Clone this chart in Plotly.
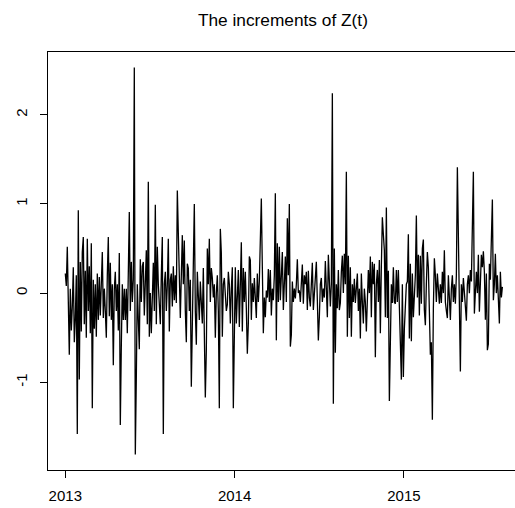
import pandas as pd
import plotly.graph_objects as go

# Increments of Z(t), one value every 51.75 hours starting 2013-01-01
increments_2013 = [
    0.22, 0.08, 0.52, -0.35, -0.69, 0.05, -0.42, -0.15, 0.29, -0.55,
    -0.30, 0.20, -1.58, 0.93, -0.97, 0.35, -0.43, 0.46, 0.63, -0.35,
    0.25, -0.50, 0.61, -0.20, 0.30, -0.45, 0.56, -1.29, 0.15, -0.40,
    0.10, -0.49, 0.22, -0.30, 0.18, -0.25, 0.12, 0.46, -0.28, 0.05,
    -0.20, -0.50, 0.20, 0.63, -0.26, 0.34, -0.30, 0.10, -0.81, 0.05,
    0.24, -0.20, 0.10, -0.42, 0.45, -1.48, -0.60, 0.10, -0.30, 0.05,
    -0.30, 0.05, -0.45, 0.20, 0.91, -0.20, 0.35, -0.10, 0.15, 2.53,
    -1.81, -0.96, 0.10, -0.30, -0.63, 0.38, -0.10, 0.30, 0.35, -0.25,
    0.10, 0.48, -0.35, 1.25, -0.49, 0.00, -0.45, 0.10, 0.34, -0.20,
    0.99, -0.35, 0.52, 0.10, -0.20, -0.35, 0.20, 0.63, -1.58, 0.10,
    0.24, -0.20, 0.10, 0.61, -0.43, 0.15, 0.22, -0.15, 0.30, -0.08,
    0.20, -0.11, 1.15, 0.67, 0.30, -0.28, 0.20, 0.65, 0.10, 0.59,
    -0.20, -0.55, 0.33, 0.28, -0.20, 0.15, -1.05, -0.34, 0.51, 1.00,
    -0.20, -0.58, 0.24, -0.10, -0.30, 0.13, -0.05, -0.34, 0.28, -0.63,
    -1.17, -0.64, 0.50, 0.10, 0.61, -0.10, 0.28, 0.17, -0.05, 0.10,
    -0.50, 0.00, 0.20, -0.20, -1.29, 0.72, 0.45, -0.49, 0.10, 0.17,
    -0.10, -0.20, -0.13, 0.24, 0.10, -0.34, 0.05, 0.29, -1.29, -0.58,
]
increments_2014 = [
    0.29, -0.34, 0.10, 0.26, -0.38, 0.10, 0.57, -0.43, 0.28, -0.10,
    0.24, -0.17, -0.68, -0.34, 0.41, 0.37, -0.30, 0.11, -0.10, 0.17,
    -0.10, -0.28, 0.22, -0.10, 0.13, 0.51, 1.06, 0.29, -0.45, -0.05,
    -0.27, 0.03, -0.05, 0.27, -0.10, 0.26, -0.25, 0.05, -0.08, 0.20,
    1.12, -0.53, 0.56, -0.10, 0.52, -0.08, 0.20, 0.46, -0.19, 0.10,
    0.41, -0.10, 0.84, 0.20, 1.00, -0.60, -0.47, 0.13, -0.10, 0.05,
    -0.06, 0.10, 0.38, 0.00, 0.03, -0.10, 0.15, 0.32, -0.12, 0.20,
    0.10, 0.24, -0.19, 0.25, -0.05, -0.15, 0.10, 0.34, -0.19, 0.00,
    0.20, 0.35, -0.08, -0.53, -0.27, 0.10, 0.17, -0.10, 0.05, -0.05,
    0.36, -0.10, -0.27, 0.43, 0.20, -0.15, 0.10, 2.24, -1.24, 0.50,
    -0.67, 0.10, -0.17, 0.26, -0.19, -0.11, 0.24, 0.42, 0.00, 0.44,
    0.10, 1.36, -0.49, 0.42, -0.28, 0.29, -0.49, 0.10, -0.10, 0.16,
    -0.11, 0.10, 0.22, -0.20, 0.05, -0.51, 0.22, -0.10, -0.34, 0.05,
    -0.10, -0.43, 0.10, 0.26, 0.00, 0.41, -0.27, 0.35, 0.10, 0.33,
    -0.72, 0.10, 0.26, -0.10, 0.37, -0.45, 0.30, 0.85, 0.66, 0.48,
    -0.27, 0.96, -0.28, 0.25, -1.21, -0.40, 0.10, -0.11, 0.29, -0.10,
    -0.12, 0.26, -0.10, 0.26, -0.20, -0.58, -0.97, 0.10, -0.94, -0.40,
]
increments_2015 = [
    -0.08, 0.10, 0.13, 0.66, -0.51, 0.33, -0.54, 0.22, -0.27, 0.10,
    0.20, 0.87, -0.05, 0.43, -0.25, 0.42, -0.12, 0.50, 0.60, -0.19,
    -0.36, 0.10, 0.46, 0.29, -0.30, -0.69, -0.55, -1.42, -0.17, 0.39,
    0.20, -0.10, 0.22, 0.00, -0.12, 0.10, -0.11, 0.24, 0.00, 0.48,
    -0.10, -0.20, -0.28, 0.20, -0.10, -0.30, 0.05, 0.20, -0.10, 0.10,
    -0.12, 0.20, 1.41, 0.69, -0.50, -0.88, 0.10, -0.10, 0.17, 0.00,
    -0.12, -0.31, 0.10, 0.20, 0.00, 0.26, 0.13, 0.69, 1.36, -0.23,
    0.10, 0.24, 0.00, 0.43, -0.21, 0.10, 0.43, 0.29, 0.47, 0.24,
    -0.30, 0.22, -0.64, -0.57, 0.33, 0.15, 0.52, 1.05, -0.08, 0.10,
    0.44, 0.00, 0.20, -0.10, -0.34, 0.24, -0.05, 0.07,
]
year_ticks = ["2013-01-01", "2014-01-01", "2015-01-01"]
year_labels = ["2013", "2014", "2015"]
y_ticks = [-1, 0, 1, 2]

values = increments_2013 + increments_2014 + increments_2015
dates = pd.date_range("2013-01-01", periods=len(values), freq="3105min")

# y limits padded by 4% like base R graphics
lo, hi = min(values), max(values)
pad = 0.04 * (hi - lo)

fig = go.Figure(
    go.Scatter(
        x=dates, y=values, mode="lines",
        line=dict(color="black", width=1.3),
        hoverinfo="x+y",
    )
)

axis_font = dict(family="Liberation Sans, Arial, sans-serif", size=15, color="black")

fig.update_layout(
    width=515, height=508,
    margin=dict(l=48, r=0, t=52, b=38),
    paper_bgcolor="white", plot_bgcolor="white",
    showlegend=False,
    title=dict(
        text="The increments of Z(t)",
        font=dict(family="Liberation Sans, Arial, sans-serif", size=17.3, color="black"),
        x=0.503, xref="paper", xanchor="center",
        y=1 - 20 / 508, yref="container", yanchor="middle",
    ),
    xaxis=dict(
        type="date",
        range=["2012-11-24 16:48", "2015-08-28 12:00"],
        tickvals=year_ticks, ticktext=year_labels,
        showgrid=False, zeroline=False,
        showline=True, mirror=True, linecolor="black", linewidth=1,
        ticks="outside", ticklen=7, tickcolor="black", tickwidth=1,
        tickfont=axis_font, ticklabelstandoff=5,
    ),
    yaxis=dict(
        range=[lo - pad, hi + pad],
        tickvals=y_ticks, ticktext=[str(v) for v in y_ticks],
        showgrid=False, zeroline=False,
        showline=True, linecolor="black", linewidth=1,
        ticks="outside", ticklen=7, tickcolor="black", tickwidth=1,
        tickfont=axis_font, tickangle=-90, ticklabelstandoff=7,
    ),
)

fig.write_html("out.html")
